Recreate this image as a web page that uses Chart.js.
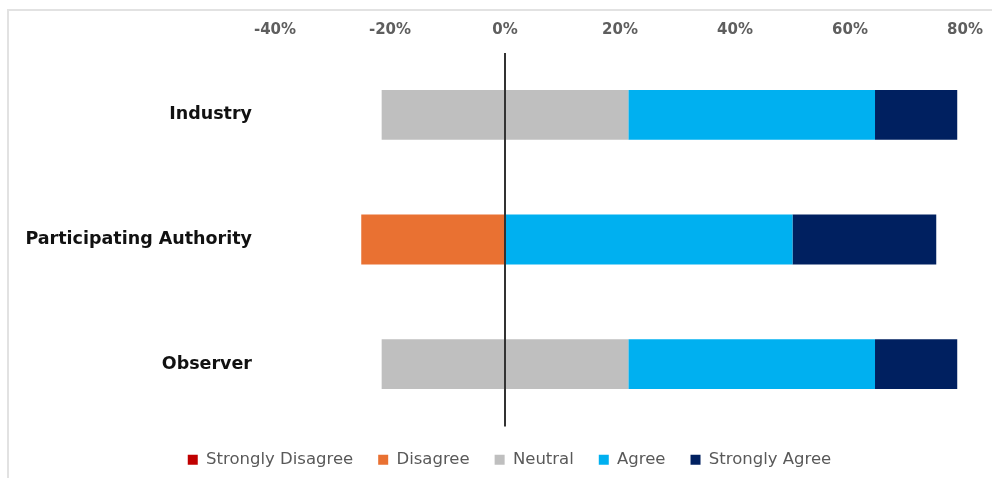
<!DOCTYPE html>
<html>
<head>
<meta charset="utf-8">
<script src="https://cdn.jsdelivr.net/npm/chart.js@4"></script>
<style>
  body { margin: 0; background: #fff; }
  .wrap { position: relative; width: 992px; height: 478px; }
  .frame { position: absolute; left: 7px; top: 9px; right: 0; bottom: 0;
           border-top: 2px solid #e2e2e2; border-left: 2px solid #e2e2e2; }
  canvas { position: absolute; left: 0; top: 0; }
</style>
</head>
<body>
<div class="wrap">
  <div class="frame"></div>
  <canvas id="likert" width="992" height="478"></canvas>
</div>
<script>
// 응답자 그룹
const groups = ['Industry', 'Participating Authority', 'Observer'];

// 응답 비율 (%)
const stronglyDisagree = [0, 0, 0];
const disagree = [0, 25, 0];
const neutral = [42.9, 0, 42.9];
const agree = [42.9, 50, 42.9];
const stronglyAgree = [14.3, 25, 14.3];

const xTicks = [-40, -20, 0, 20, 40, 60, 80];
const legendOrder = ['Strongly Disagree', 'Disagree', 'Neutral', 'Agree', 'Strongly Agree'];

const colors = {
  stronglyDisagree: '#C00000',
  disagree: '#E97132',
  neutral: '#BFBFBF',
  agree: '#00B0F0',
  stronglyAgree: '#002060'
};

// 중립은 0 기준 양쪽으로 반씩 나눠서 그림
const neutralLeft = neutral.map(v => -v / 2);
const neutralRight = neutral.map(v => v / 2);
const neg = arr => arr.map(v => -v);

const datasets = [
  {label: 'Neutral', data: neutralLeft, backgroundColor: colors.neutral, hideInLegend: true},
  {label: 'Disagree', data: neg(disagree), backgroundColor: colors.disagree},
  {label: 'Strongly Disagree', data: neg(stronglyDisagree), backgroundColor: colors.stronglyDisagree},
  {label: 'Neutral', data: neutralRight, backgroundColor: colors.neutral},
  {label: 'Agree', data: agree, backgroundColor: colors.agree},
  {label: 'Strongly Agree', data: stronglyAgree, backgroundColor: colors.stronglyAgree}
];
datasets.forEach(d => {
  d.borderWidth = 0;
  d.barPercentage = 0.4;
  d.categoryPercentage = 1;
});

// 범례를 막대 영역 쪽으로 조금 이동
const legendShift = {
  id: 'legendShift',
  afterLayout(chart) {
    chart.legend.left += 27;
    chart.legend.right += 27;
  }
};

new Chart(document.getElementById('likert'), {
  type: 'bar',
  data: {
    labels: groups,
    datasets: datasets
  },
  plugins: [legendShift],
  options: {
    indexAxis: 'y',
    responsive: false,
    animation: false,
    layout: {padding: {left: 0, right: 27, top: 0, bottom: 0}},
    scales: {
      x: {
        position: 'top',
        stacked: true,
        min: xTicks[0],
        max: xTicks[xTicks.length - 1],
        afterBuildTicks: scale => { scale.ticks = xTicks.map(v => ({value: v})); },
        afterFit: scale => {
          scale.height = 52.5;
          scale.paddingLeft = 0;
          scale.paddingRight = 0;
        },
        border: {display: false},
        grid: {
          drawTicks: false,
          z: 1,
          lineWidth: 2,
          color: ctx => (ctx.tick && ctx.tick.value === 0) ? '#333' : 'rgba(0,0,0,0)'
        },
        ticks: {
          padding: 13.5,
          color: '#5e5e5e',
          font: {family: 'DejaVu Sans', size: 15, weight: 'bold'},
          callback: v => v + '%'
        }
      },
      y: {
        stacked: true,
        afterFit: scale => { scale.width = 275; },
        border: {display: false},
        grid: {display: false, drawTicks: false},
        ticks: {
          padding: 23,
          color: '#111',
          font: {family: 'DejaVu Sans', size: 17.5, weight: 'bold'}
        }
      }
    },
    plugins: {
      tooltip: {enabled: false},
      legend: {
        position: 'bottom',
        labels: {
          boxWidth: 10,
          boxHeight: 10,
          padding: 25,
          color: '#595959',
          font: {family: 'DejaVu Sans', size: 16.5},
          filter: (item, data) => !data.datasets[item.datasetIndex].hideInLegend,
          sort: (a, b) => legendOrder.indexOf(a.text) - legendOrder.indexOf(b.text)
        }
      }
    }
  }
});
</script>
</body>
</html>
